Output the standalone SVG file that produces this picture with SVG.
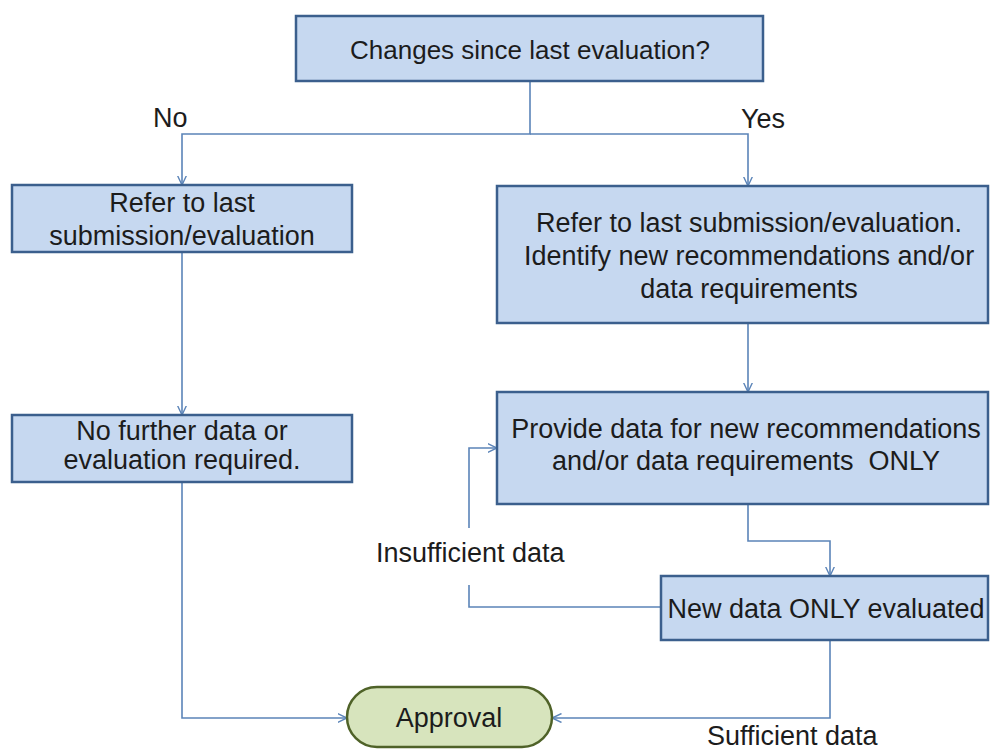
<svg xmlns="http://www.w3.org/2000/svg" width="990" height="752" viewBox="0 0 990 752">
<style>
.box{fill:#c6d8f0;stroke:#3b5f8d;stroke-width:2.5}
.pill{fill:#d7e4bd;stroke:#4f6228;stroke-width:2.5}
.t{font-family:"Liberation Sans",Arial,sans-serif;font-size:27px;fill:#1c1c1c;text-anchor:middle}
.l{font-family:"Liberation Sans",Arial,sans-serif;font-size:27px;fill:#1c1c1c}
.c{fill:none;stroke:#5b84b8;stroke-width:1.6}
</style>
<defs>
<marker id="arr" viewBox="0 0 10 10" refX="9.5" refY="5" markerWidth="10" markerHeight="10" markerUnits="userSpaceOnUse" orient="auto">
<path d="M0,0.5 L9.5,5 L0,9.5" fill="none" stroke="#5b84b8" stroke-width="1.4"/>
</marker>
</defs>
<rect width="990" height="752" fill="#ffffff"/>
<g id="connectors">
<path class="c" d="M530 81 V134 H182 V185" marker-end="url(#arr)"/>
<path class="c" d="M530 134 H748 V186" marker-end="url(#arr)"/>
<path class="c" d="M182 252 V415" marker-end="url(#arr)"/>
<path class="c" d="M748 323 V392" marker-end="url(#arr)"/>
<path class="c" d="M748 504 V541 H830 V576" marker-end="url(#arr)"/>
<path class="c" d="M661 607 H469 V585"/>
<path class="c" d="M469 528 V448 H497" marker-end="url(#arr)"/>
<path class="c" d="M182 482 V718 H347" marker-end="url(#arr)"/>
<path class="c" d="M830 640 V718 H552" marker-end="url(#arr)"/>
</g>
<g id="labels">
<text class="l" x="153" y="127">No</text>
<text class="l" x="741" y="128">Yes</text>
<text class="l" x="376" y="562">Insufficient data</text>
<text class="l" x="707" y="745">Sufficient data</text>
</g>
<g id="node-changes">
<rect class="box" x="296" y="16" width="467" height="65"/>
<text class="t" x="530" y="59" style="font-size:26px">Changes since last evaluation?</text>
</g>
<g id="node-refer-last">
<rect class="box" x="12" y="185" width="340" height="67"/>
<text class="t" x="182" y="212">Refer to last</text>
<text class="t" x="182" y="245">submission/evaluation</text>
</g>
<g id="node-refer-identify">
<rect class="box" x="497" y="186" width="491" height="137"/>
<text class="t" x="749" y="232">Refer to last submission/evaluation.</text>
<text class="t" x="749" y="265">Identify new recommendations and/or</text>
<text class="t" x="749" y="298">data requirements</text>
</g>
<g id="node-no-further">
<rect class="box" x="12" y="415" width="340" height="67"/>
<text class="t" x="182" y="440">No further data or</text>
<text class="t" x="182" y="469">evaluation required.</text>
</g>
<g id="node-provide">
<rect class="box" x="497" y="392" width="491" height="112"/>
<text class="t" x="746" y="438">Provide data for new recommendations</text>
<text class="t" x="746" y="470" xml:space="preserve">and/or data requirements  ONLY</text>
</g>
<g id="node-new-data">
<rect class="box" x="661" y="576" width="327" height="64"/>
<text class="t" x="826" y="618">New data ONLY evaluated</text>
</g>
<g id="node-approval">
<rect class="pill" x="347" y="687" width="205" height="60" rx="30" ry="30"/>
<text class="t" x="449" y="727">Approval</text>
</g>
</svg>
